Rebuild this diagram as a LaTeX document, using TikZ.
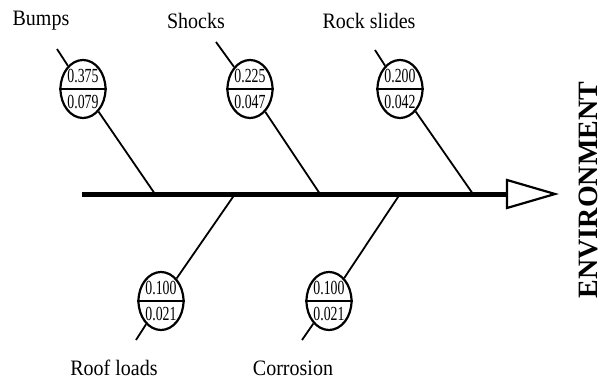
\documentclass[tikz,border=0pt]{standalone}
\usepackage{fontspec}
\setmainfont{Liberation Serif}
\usetikzlibrary{shapes.geometric}
\begin{document}
\begin{tikzpicture}[x=1pt,y=-1pt,
  bone/.style={line width=1.8pt},
  spine/.style={line width=5.5pt},
  cause/.style={ellipse,draw,line width=2.2pt,fill=white,minimum width=45pt,minimum height=58pt,inner sep=0pt},
  divider/.style={line width=2.4pt},
  lbl/.style={font=\fontsize{22}{24}\selectfont,inner sep=0pt},
  num/.style={font=\fontsize{20}{20}\selectfont,inner sep=0pt},
  effect/.style={font=\fontsize{28}{30}\selectfont\bfseries,inner sep=0pt,rotate=90},
  head/.style={line width=2.2pt,fill=white}
  ]
\useasboundingbox (0,0) rectangle (608,382);

% spine
\coordinate (tail) at (82,194.5);
\coordinate (hbase) at (507,194.5);
\coordinate (htop) at (507,180);
\coordinate (hbot) at (507,208);
\coordinate (htip) at (555,194);
\draw[spine] (tail) -- (hbase);
\draw[head] (htop) -- (htip) -- (hbot) -- cycle;
\node[effect] (env) at (588,190) {ENVIRONMENT};

% bone endpoints
\coordinate (t1) at (57,49);   \coordinate (j1) at (155,194);
\coordinate (t2) at (216,42);  \coordinate (j2) at (320,194);
\coordinate (t3) at (375,50);  \coordinate (j3) at (473,194);
\coordinate (t4) at (136,340); \coordinate (j4) at (235,194);
\coordinate (t5) at (302,340); \coordinate (j5) at (400,194);

% cause ellipses
\node[cause] (e1) at (83,89) {};
\node[cause] (e2) at (250,89) {};
\node[cause] (e3) at (400,89) {};
\node[cause] (e4) at (161,301) {};
\node[cause] (e5) at (329,301) {};

% bones
\foreach \i in {1,...,5}{
  \draw[bone] (t\i) -- (e\i);
  \draw[bone] (e\i) -- (j\i);
  \draw[divider] (e\i.west) -- (e\i.east);
}

% numbers
\newcommand{\nm}[1]{\scalebox{0.69}[1]{#1}}
\node[num] (n1a) at ([yshift=13pt]e1.center) {\nm{0.375}};
\node[num] (n1b) at ([yshift=-13pt]e1.center) {\nm{0.079}};
\node[num] (n2a) at ([yshift=13pt]e2.center) {\nm{0.225}};
\node[num] (n2b) at ([yshift=-13pt]e2.center) {\nm{0.047}};
\node[num] (n3a) at ([yshift=13pt]e3.center) {\nm{0.200}};
\node[num] (n3b) at ([yshift=-13pt]e3.center) {\nm{0.042}};
\node[num] (n4a) at ([yshift=13pt]e4.center) {\nm{0.100}};
\node[num] (n4b) at ([yshift=-13pt]e4.center) {\nm{0.021}};
\node[num] (n5a) at ([yshift=13pt]e5.center) {\nm{0.100}};
\node[num] (n5b) at ([yshift=-13pt]e5.center) {\nm{0.021}};

% labels
\newcommand{\lb}[1]{\scalebox{0.91}[1]{#1}}
\node[lbl] (l1) at (41,21) {\lb{Bumps}};
\node[lbl] (l2) at (196,21) {\lb{Shocks}};
\node[lbl] (l3) at (369,21) {\lb{Rock slides}};
\node[lbl] (l4) at (114,368) {\lb{Roof loads}};
\node[lbl] (l5) at (293,368) {\lb{Corrosion}};
\end{tikzpicture}
\end{document}
